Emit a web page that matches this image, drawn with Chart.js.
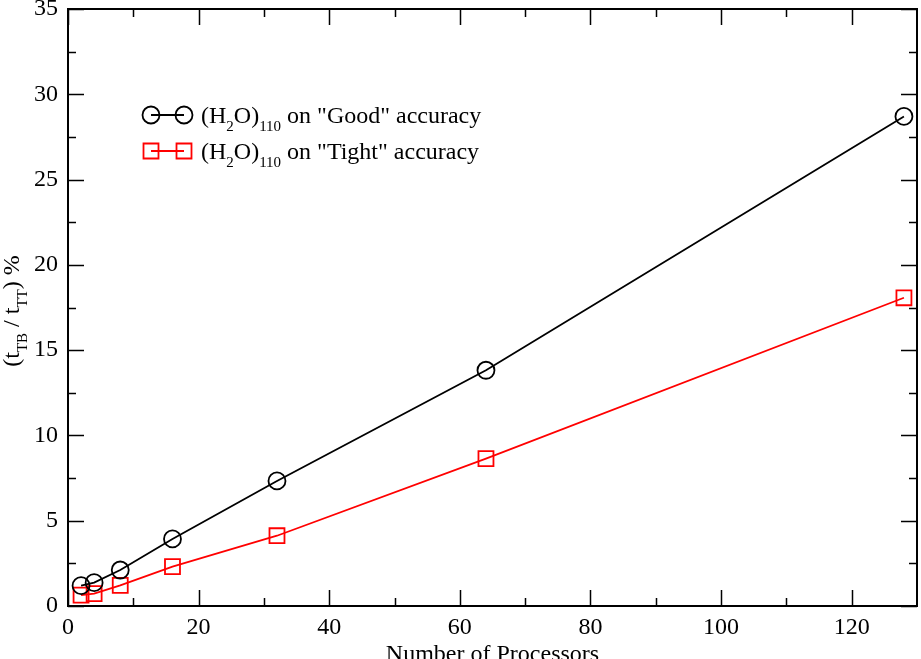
<!DOCTYPE html>
<html>
<head>
<meta charset="utf-8">
<script src="https://cdn.jsdelivr.net/npm/chart.js@4.4.0/dist/chart.umd.min.js"></script>
<style>
  html, body { margin: 0; padding: 0; background: #fff; }
  #wrap { width: 921px; height: 659px; }
</style>
</head>
<body>
<div id="wrap"><canvas id="chart" width="921" height="659"></canvas></div>
<script>
// values
const processors = [2, 4, 8, 16, 32, 64, 128];
const goodAccuracy = [1.19, 1.37, 2.11, 3.93, 7.33, 13.82, 28.7];
const tightAccuracy = [0.64, 0.72, 1.21, 2.31, 4.12, 8.64, 18.07];

const xTickValues = [0, 20, 40, 60, 80, 100, 120];
const xMinorValues = [10, 30, 50, 70, 90, 110];
const yTickValues = [0, 5, 10, 15, 20, 25, 30, 35];
const yMinorValues = [2.5, 7.5, 12.5, 17.5, 22.5, 27.5, 32.5];

// [text, isSubscript]
const goodLabel = [["(H", false], ["2", true], ["O)", false], ["110", true], [" on \"Good\" accuracy", false]];
const tightLabel = [["(H", false], ["2", true], ["O)", false], ["110", true], [" on \"Tight\" accuracy", false]];
const yTitle = [["(t", false], ["TB", true], [" / t", false], ["TT", true], [") %", false]];
const xTitle = "Number of Processors";

const FAMILY = "'Liberation Serif', 'Times New Roman', serif";
const MAIN_FONT = "24px " + FAMILY;
const SUB_FONT = "15px " + FAMILY;
const SUB_SHIFT = 8;

function toPoints(xs, ys) {
  return xs.map((x, i) => ({ x: x, y: ys[i] }));
}

function richWidth(ctx, parts) {
  let w = 0;
  parts.forEach(([text, sub]) => {
    ctx.font = sub ? SUB_FONT : MAIN_FONT;
    w += ctx.measureText(text).width;
  });
  return w;
}

function drawRich(ctx, parts, x, y) {
  parts.forEach(([text, sub]) => {
    ctx.font = sub ? SUB_FONT : MAIN_FONT;
    ctx.fillText(text, x, y + (sub ? SUB_SHIFT : 0));
    x += ctx.measureText(text).width;
  });
  return x;
}

// box with inward ticks on all four sides, like the original plot
const framePlugin = {
  id: "frame",
  afterDatasetsDraw(chart) {
    const ctx = chart.ctx;
    const a = chart.chartArea;
    const xs = chart.scales.x;
    const ys = chart.scales.y;
    ctx.save();
    ctx.strokeStyle = "#000";
    ctx.lineWidth = 1.5;
    ctx.beginPath();
    xTickValues.concat(xMinorValues).forEach((v) => {
      const len = xTickValues.includes(v) ? 16 : 8;
      const px = Math.round(xs.getPixelForValue(v)) + 0.5;
      ctx.moveTo(px, a.bottom);
      ctx.lineTo(px, a.bottom - len);
      ctx.moveTo(px, a.top);
      ctx.lineTo(px, a.top + len);
    });
    yTickValues.concat(yMinorValues).forEach((v) => {
      const len = yTickValues.includes(v) ? 16 : 8;
      const py = Math.round(ys.getPixelForValue(v)) + 0.5;
      ctx.moveTo(a.left, py);
      ctx.lineTo(a.left + len, py);
      ctx.moveTo(a.right, py);
      ctx.lineTo(a.right - len, py);
    });
    ctx.stroke();
    ctx.lineWidth = 2;
    ctx.strokeRect(a.left, a.top, a.right - a.left, a.bottom - a.top);
    ctx.restore();
  },
};

// legend and axis titles need subscripts, so they are drawn by hand
const textPlugin = {
  id: "richText",
  afterDraw(chart) {
    const ctx = chart.ctx;
    const a = chart.chartArea;
    ctx.save();
    ctx.fillStyle = "#000";
    ctx.textBaseline = "alphabetic";

    const labels = [goodLabel, tightLabel];
    chart.data.datasets.forEach((ds, i) => {
      const cy = 115 + i * 36;
      const x1 = 151;
      const x2 = 184;
      ctx.strokeStyle = ds.borderColor;
      ctx.lineWidth = ds.borderWidth;
      ctx.beginPath();
      ctx.moveTo(x1, cy);
      ctx.lineTo(x2, cy);
      ctx.stroke();
      ctx.fillStyle = "rgba(0,0,0,0)";
      ctx.lineWidth = ds.pointBorderWidth;
      [x1, x2].forEach((px) => {
        Chart.helpers.drawPoint(ctx, {
          pointStyle: ds.pointStyle,
          radius: ds.pointRadius,
          rotation: 0,
          borderWidth: ds.pointBorderWidth,
        }, px, cy);
      });
      ctx.fillStyle = "#000";
      drawRich(ctx, labels[i], 201, cy + 8);
    });

    // x title
    ctx.font = MAIN_FONT;
    ctx.textAlign = "center";
    ctx.fillText(xTitle, (a.left + a.right) / 2, 661);

    // y title, rotated
    ctx.textAlign = "left";
    const w = richWidth(ctx, yTitle);
    ctx.translate(19, 311);
    ctx.rotate(-Math.PI / 2);
    drawRich(ctx, yTitle, -w / 2, 0);
    ctx.restore();
  },
};

const ctx = document.getElementById("chart").getContext("2d");
const chart = new Chart(ctx, {
  type: "line",
  data: {
    datasets: [
      {
        label: "(H2O)110 on \"Good\" accuracy",
        data: toPoints(processors, goodAccuracy),
        borderColor: "#000000",
        borderWidth: 1.8,
        pointStyle: "circle",
        pointRadius: 8.5,
        pointBorderWidth: 1.8,
        pointBorderColor: "#000000",
        pointBackgroundColor: "rgba(0,0,0,0)",
        tension: 0,
        fill: false,
      },
      {
        label: "(H2O)110 on \"Tight\" accuracy",
        data: toPoints(processors, tightAccuracy),
        borderColor: "#ff0000",
        borderWidth: 1.8,
        pointStyle: "rect",
        pointRadius: 10.6,
        pointBorderWidth: 1.8,
        pointBorderColor: "#ff0000",
        pointBackgroundColor: "rgba(0,0,0,0)",
        tension: 0,
        fill: false,
      },
    ],
  },
  options: {
    responsive: false,
    animation: false,
    layout: { autoPadding: false, padding: { top: 9, right: 4, left: 0, bottom: 0 } },
    plugins: {
      legend: { display: false },
      tooltip: { enabled: false },
    },
    scales: {
      x: {
        type: "linear",
        min: 0,
        max: 130,
        afterBuildTicks: (scale) => {
          scale.ticks = xTickValues.map((v) => ({ value: v }));
        },
        afterFit: (scale) => {
          scale.height = 53;
          scale.paddingLeft = 0;
          scale.paddingRight = 0;
        },
        grid: { display: false, drawTicks: false },
        border: { display: false },
        ticks: {
          color: "#000",
          padding: 7,
          maxRotation: 0,
          font: { family: FAMILY, size: 24 },
        },
      },
      y: {
        min: 0,
        max: 35,
        afterBuildTicks: (scale) => {
          scale.ticks = yTickValues.map((v) => ({ value: v }));
        },
        afterFit: (scale) => {
          scale.width = 68;
          scale.paddingTop = 0;
          scale.paddingBottom = 0;
        },
        grid: { display: false, drawTicks: false },
        border: { display: false },
        ticks: {
          color: "#000",
          padding: 10,
          font: { family: FAMILY, size: 24 },
        },
      },
    },
  },
  plugins: [framePlugin, textPlugin],
});
</script>
</body>
</html>
